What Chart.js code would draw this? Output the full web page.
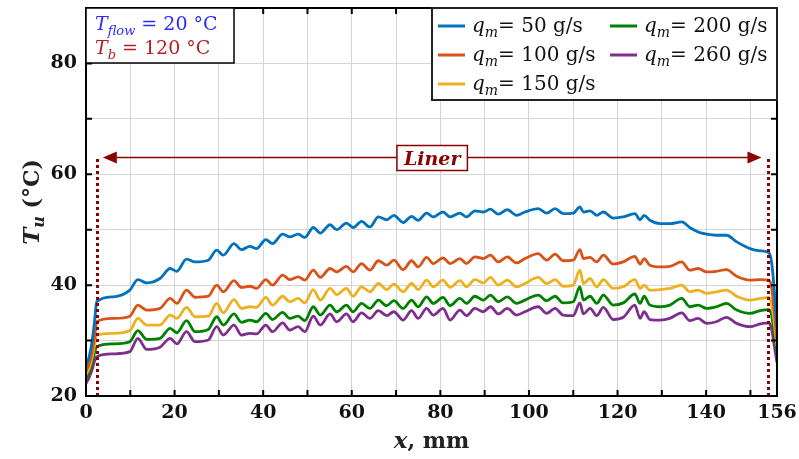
<!DOCTYPE html>
<html>
<head>
<meta charset="utf-8">
<script src="https://cdn.jsdelivr.net/npm/chart.js@4.4.0/dist/chart.umd.min.js"></script>
<style>
html, body { margin: 0; padding: 0; background: #fff; }
</style>
</head>
<body>
<canvas id="tempChart" width="799" height="459"></canvas>
<script>
// positions along the liner, mm
const xPos = [
  0, 0.7, 1.4, 2.0, 2.4, 6.2, 9.9, 11.7, 13.7, 16.7,
  19.0, 20.5, 22.7, 24.6, 27.6, 29.5, 31.0, 33.4, 35.1, 37.0,
  38.5, 40.6, 42.1, 44.4, 46.0, 47.9, 49.4, 51.3, 52.9, 55.1,
  56.6, 58.8, 60.3, 62.2, 64.1, 66.0, 67.9, 69.5, 71.6, 73.5,
  75.0, 76.9, 78.4, 80.6, 82.2, 84.4, 85.9, 87.8, 89.7, 91.3,
  93.1, 95.1, 97.2, 99.1, 102.1, 104.0, 105.9, 107.7, 110.0, 111.5,
  112.3, 113.8, 115.3, 116.8, 119.0, 121.3, 123.9, 125.1, 126.0, 127.3,
  129.6, 131.8, 134.5, 136.3, 138.2, 140.1, 142.3, 144.6, 146.9, 149.9,
  152.2, 154.2, 154.8, 155.4, 156
];

const tq50 = [
  25.5, 27.0, 30.0, 34.0, 37.0, 37.9, 39.1, 41.0, 40.4, 41.2,
  43.0, 42.5, 44.7, 44.2, 44.5, 46.3, 45.4, 47.5, 46.4, 47.0,
  46.6, 48.2, 47.5, 49.2, 48.7, 49.2, 48.6, 50.4, 49.4, 50.9,
  50.0, 51.2, 50.4, 51.5, 50.5, 52.3, 51.8, 52.6, 51.3, 52.4,
  51.7, 53.0, 52.3, 53.2, 52.3, 53.0, 52.3, 53.4, 53.2, 53.7,
  52.8, 53.6, 52.6, 53.2, 53.8, 53.0, 53.8, 52.9, 53.0, 54.1,
  53.2, 53.4, 52.6, 53.2, 52.1, 52.3, 52.9, 51.8, 52.6, 51.7,
  51.1, 51.1, 51.4, 50.4, 49.6, 49.2, 49.0, 49.0, 47.8, 46.6,
  46.2, 45.8, 44.0, 39.0, 32.5
];
const tq100 = [
  24.5, 25.8, 28.0, 31.0, 33.4, 34.0, 34.4, 36.4, 35.5, 35.8,
  37.6, 36.7, 39.1, 37.8, 38.0, 40.0, 38.8, 40.8, 39.6, 39.8,
  39.4, 41.0, 40.0, 41.8, 41.0, 41.5, 40.9, 42.7, 41.4, 43.0,
  42.4, 43.4, 42.4, 43.9, 42.7, 44.4, 43.6, 44.5, 42.8, 44.4,
  43.3, 45.0, 43.9, 44.9, 43.9, 44.8, 43.9, 45.1, 44.8, 45.4,
  44.2, 45.1, 44.0, 44.8, 45.7, 44.5, 45.6, 44.4, 44.5, 46.4,
  44.8, 45.0, 44.2, 45.4, 43.8, 44.2, 45.2, 43.8, 44.8, 43.6,
  43.3, 43.4, 44.2, 42.7, 43.0, 42.4, 42.5, 42.8, 41.6, 40.9,
  41.0, 40.9, 39.5, 35.0, 30.0
];
const tq150 = [
  23.8, 25.0, 27.0, 29.5, 31.0, 31.3, 31.8, 34.0, 32.8, 32.8,
  34.6, 34.0, 36.0, 34.3, 34.4, 36.7, 35.0, 37.4, 35.8, 36.1,
  36.0, 37.8, 36.4, 38.0, 37.0, 37.6, 36.8, 39.2, 37.3, 39.4,
  38.3, 39.4, 38.0, 39.7, 38.8, 40.3, 39.2, 40.2, 38.8, 40.3,
  39.2, 40.9, 39.7, 40.9, 39.6, 40.8, 39.7, 41.0, 40.4, 41.4,
  40.0, 40.9, 39.7, 40.3, 41.4, 40.3, 41.0, 39.8, 40.0, 42.7,
  40.3, 41.2, 39.7, 41.0, 39.4, 39.7, 41.0, 39.4, 40.0, 39.1,
  39.2, 39.4, 40.0, 38.8, 39.1, 38.5, 38.8, 39.1, 38.0, 37.3,
  37.6, 37.8, 36.5, 33.0, 29.0
];
const tq200 = [
  23.0, 24.3, 26.0, 28.0, 28.9, 29.4, 29.8, 31.8, 30.2, 30.4,
  32.2, 31.4, 33.6, 31.6, 32.0, 34.3, 32.8, 34.8, 33.3, 33.7,
  33.4, 34.9, 33.8, 35.1, 34.0, 34.4, 33.6, 36.1, 34.6, 36.4,
  35.2, 36.4, 35.2, 36.7, 35.8, 37.3, 36.3, 37.2, 35.8, 37.3,
  36.1, 37.9, 36.7, 37.8, 36.3, 37.6, 36.7, 38.0, 37.3, 38.2,
  37.0, 37.9, 36.7, 37.3, 38.2, 37.2, 38.0, 36.8, 37.0, 39.7,
  37.3, 38.0, 36.7, 38.2, 36.4, 36.8, 38.4, 36.7, 38.0, 36.4,
  36.1, 36.4, 37.6, 36.1, 36.4, 35.8, 36.1, 36.7, 35.5, 34.9,
  35.4, 35.6, 34.5, 31.0, 28.0
];
const tq260 = [
  22.3, 23.3, 24.8, 26.5, 27.1, 27.6, 28.0, 30.4, 28.4, 28.8,
  30.4, 29.4, 31.6, 29.8, 30.1, 32.5, 31.0, 32.8, 31.0, 31.3,
  31.2, 32.8, 31.6, 33.2, 31.9, 32.5, 31.6, 34.4, 32.8, 34.8,
  33.4, 34.8, 33.4, 35.0, 34.0, 35.4, 34.5, 35.2, 33.7, 35.4,
  34.0, 35.8, 34.6, 35.8, 33.7, 35.5, 34.5, 35.8, 35.2, 36.1,
  34.8, 35.8, 34.6, 35.2, 36.1, 34.9, 35.8, 34.6, 34.5, 36.8,
  34.8, 35.8, 34.5, 36.0, 33.8, 34.2, 36.4, 34.0, 35.2, 33.8,
  33.7, 34.0, 35.0, 33.6, 34.0, 33.1, 33.4, 34.2, 33.1, 32.5,
  33.0, 33.2, 32.0, 29.0, 26.0
];

const flowRates = ['50', '100', '150', '200', '260'];
const seriesData = [tq50, tq100, tq150, tq200, tq260];
const lineColors = ['#0072BD', '#D95319', '#EDB120', '#008000', '#7E2F8E'];

const xTicks = [0, 10, 20, 30, 40, 50, 60, 70, 80, 90, 100, 110, 120, 130, 140, 150, 156];
const xLabelled = [0, 20, 40, 60, 80, 100, 120, 140, 156];
const yLabelled = [20, 40, 60, 80];

// liner extent (mm) and height of the marker (°C)
const linerStart = 2.4, linerEnd = 153.9;
const arrowLeft = 3.8, arrowRight = 152.5, linerLevel = 63.1;

const serif = '"DejaVu Serif", "Liberation Serif", serif';
const darkRed = '#8B0000';

function drawRich(ctx, parts, x, y) {
  let cx = x;
  for (const p of parts) {
    ctx.font = p.font;
    ctx.fillStyle = p.color;
    ctx.fillText(p.text, cx, y + (p.dy || 0));
    cx += ctx.measureText(p.text).width;
  }
  return cx;
}
function richWidth(ctx, parts) {
  let w = 0;
  for (const p of parts) { ctx.font = p.font; w += ctx.measureText(p.text).width; }
  return w;
}

const notesPlugin = {
  id: 'notes',
  afterDatasetsDraw(chart) {
    const { ctx, chartArea: a, scales: { x, y } } = chart;
    ctx.save();
    ctx.textBaseline = 'alphabetic';

    // dotted liner bounds
    const yb = y.getPixelForValue(20), yt = y.getPixelForValue(linerLevel);
    ctx.strokeStyle = darkRed;
    ctx.lineWidth = 3;
    ctx.setLineDash([3, 3]);
    for (const v of [linerStart, linerEnd]) {
      const px = Math.round(x.getPixelForValue(v)) + 0.5;
      ctx.beginPath(); ctx.moveTo(px, yb); ctx.lineTo(px, yt); ctx.stroke();
    }
    ctx.setLineDash([]);

    // double arrow
    const al = x.getPixelForValue(arrowLeft), ar = x.getPixelForValue(arrowRight);
    const ay = Math.round(yt) + 0.5;
    ctx.lineWidth = 1.5;
    ctx.beginPath(); ctx.moveTo(al + 10, ay); ctx.lineTo(ar - 10, ay); ctx.stroke();
    ctx.fillStyle = darkRed;
    ctx.beginPath(); ctx.moveTo(al, ay); ctx.lineTo(al + 14, ay - 6); ctx.lineTo(al + 14, ay + 6); ctx.closePath(); ctx.fill();
    ctx.beginPath(); ctx.moveTo(ar, ay); ctx.lineTo(ar - 14, ay - 6); ctx.lineTo(ar - 14, ay + 6); ctx.closePath(); ctx.fill();

    // Liner label
    ctx.font = 'italic bold 19px ' + serif;
    const lw = ctx.measureText('Liner').width;
    const lc = (al + ar) / 2;
    ctx.fillStyle = '#fff';
    ctx.fillRect(lc - lw / 2 - 7, ay - 12, lw + 14, 25);
    ctx.strokeStyle = darkRed;
    ctx.lineWidth = 1.5;
    ctx.strokeRect(lc - lw / 2 - 7, ay - 12, lw + 14, 25);
    ctx.fillStyle = darkRed;
    ctx.textAlign = 'center';
    ctx.fillText('Liner', lc, ay + 7);
    ctx.textAlign = 'left';

    // frame with inward ticks
    ctx.strokeStyle = '#000';
    ctx.lineWidth = 2;
    ctx.strokeRect(a.left, a.top, a.width, a.height);
    ctx.beginPath();
    for (const v of xTicks) {
      const px = x.getPixelForValue(v);
      ctx.moveTo(px, a.bottom); ctx.lineTo(px, a.bottom - 6);
      ctx.moveTo(px, a.top); ctx.lineTo(px, a.top + 6);
    }
    for (let v = 20; v <= 90; v += 10) {
      const py = y.getPixelForValue(v);
      ctx.moveTo(a.left, py); ctx.lineTo(a.left + 6, py);
      ctx.moveTo(a.right, py); ctx.lineTo(a.right - 6, py);
    }
    ctx.stroke();

    // boundary condition box
    const bx = a.left, by = a.top;
    ctx.fillStyle = '#fff';
    ctx.fillRect(bx, by, 148, 55);
    ctx.lineWidth = 1.5;
    ctx.strokeRect(bx, by, 148, 55);
    const big = '19px ' + serif, bigI = 'italic 19px ' + serif, subI = 'italic 13px ' + serif;
    drawRich(ctx, [
      { text: 'T', font: bigI, color: '#2b2bff' },
      { text: 'flow', font: subI, color: '#2b2bff', dy: 5 },
      { text: ' = 20 °C', font: big, color: '#2b2bff' }
    ], bx + 9, by + 22);
    drawRich(ctx, [
      { text: 'T', font: bigI, color: '#b22222' },
      { text: 'b', font: subI, color: '#b22222', dy: 5 },
      { text: ' = 120 °C', font: big, color: '#b22222' }
    ], bx + 9, by + 46);

    // legend
    const lx = 432, ly = a.top, lW = a.right - lx, lH = 92;
    ctx.fillStyle = '#fff';
    ctx.fillRect(lx, ly, lW, lH);
    ctx.strokeStyle = '#222';
    ctx.lineWidth = 2;
    ctx.strokeRect(lx, ly, lW, lH);
    const cols = [lx + 6, lx + 178];
    const rows = [ly + 18, ly + 47, ly + 76];
    const slots = [[0, 0], [0, 1], [0, 2], [1, 0], [1, 1]];
    const lgBig = '20px ' + serif, lgI = 'italic 20px ' + serif, lgSub = 'italic 14px ' + serif;
    chart.data.datasets.forEach((ds, i) => {
      const [c, r] = slots[i];
      const sx = cols[c], sy = rows[r];
      ctx.strokeStyle = ds.borderColor;
      ctx.lineWidth = 3;
      ctx.beginPath(); ctx.moveTo(sx, sy); ctx.lineTo(sx + 27, sy); ctx.stroke();
      drawRich(ctx, [
        { text: 'q', font: lgI, color: '#111' },
        { text: 'm', font: lgSub, color: '#111', dy: 5 },
        { text: '= ' + flowRates[i] + ' g/s', font: lgBig, color: '#111' }
      ], sx + 34, sy + 6);
    });

    // axis titles
    ctx.save();
    const titleY = [
      { text: 'T', font: 'italic bold 23px ' + serif, color: '#222' },
      { text: 'u', font: 'italic bold 16px ' + serif, color: '#222', dy: 5 },
      { text: ' (°C)', font: 'bold 22px ' + serif, color: '#222' }
    ];
    ctx.translate(39, (a.top + a.bottom) / 2);
    ctx.rotate(-Math.PI / 2);
    drawRich(ctx, titleY, -richWidth(ctx, titleY) / 2, 0);
    ctx.restore();
    const titleX = [
      { text: 'x', font: 'italic bold 23px ' + serif, color: '#222' },
      { text: ', mm', font: 'bold 22px ' + serif, color: '#222' }
    ];
    drawRich(ctx, titleX, (a.left + a.right) / 2 - richWidth(ctx, titleX) / 2, 448);

    ctx.restore();
  }
};

const ctx = document.getElementById('tempChart').getContext('2d');

const tempChart = new Chart(ctx, {
  type: 'line',
  data: {
    datasets: seriesData.map((vals, i) => ({
      label: 'q_m = ' + flowRates[i] + ' g/s',
      data: xPos.map((xv, j) => ({ x: xv, y: vals[j] })),
      borderColor: lineColors[i],
      borderWidth: 2.8,
      pointRadius: 0,
      cubicInterpolationMode: 'monotone',
      fill: false
    }))
  },
  options: {
    responsive: false,
    animation: false,
    devicePixelRatio: 1,
    layout: { padding: { left: 0, top: 8, right: 22, bottom: 0 } },
    plugins: {
      legend: { display: false },
      tooltip: { enabled: false }
    },
    scales: {
      x: {
        type: 'linear',
        min: 0,
        max: 156,
        afterBuildTicks: (scale) => { scale.ticks = xTicks.map(v => ({ value: v })); },
        afterFit: (scale) => { scale.height = 63; scale.paddingLeft = 0; scale.paddingRight = 0; },
        grid: { color: '#d4d4d4', lineWidth: 1, drawTicks: false },
        border: { display: false },
        ticks: {
          autoSkip: false,
          maxRotation: 0,
          padding: 6,
          color: '#111',
          font: { family: serif, size: 19, weight: 'bold' },
          callback: (v) => xLabelled.includes(v) ? String(v) : ''
        }
      },
      y: {
        min: 20,
        max: 90,
        afterFit: (scale) => { scale.width = 86; scale.paddingTop = 0; scale.paddingBottom = 0; },
        grid: { color: '#d4d4d4', lineWidth: 1, drawTicks: false },
        border: { display: false },
        ticks: {
          stepSize: 10,
          padding: 9,
          color: '#111',
          font: { family: serif, size: 19, weight: 'bold' },
          callback: (v) => yLabelled.includes(v) ? String(v) : ''
        }
      }
    }
  },
  plugins: [notesPlugin]
});
</script>
</body>
</html>
